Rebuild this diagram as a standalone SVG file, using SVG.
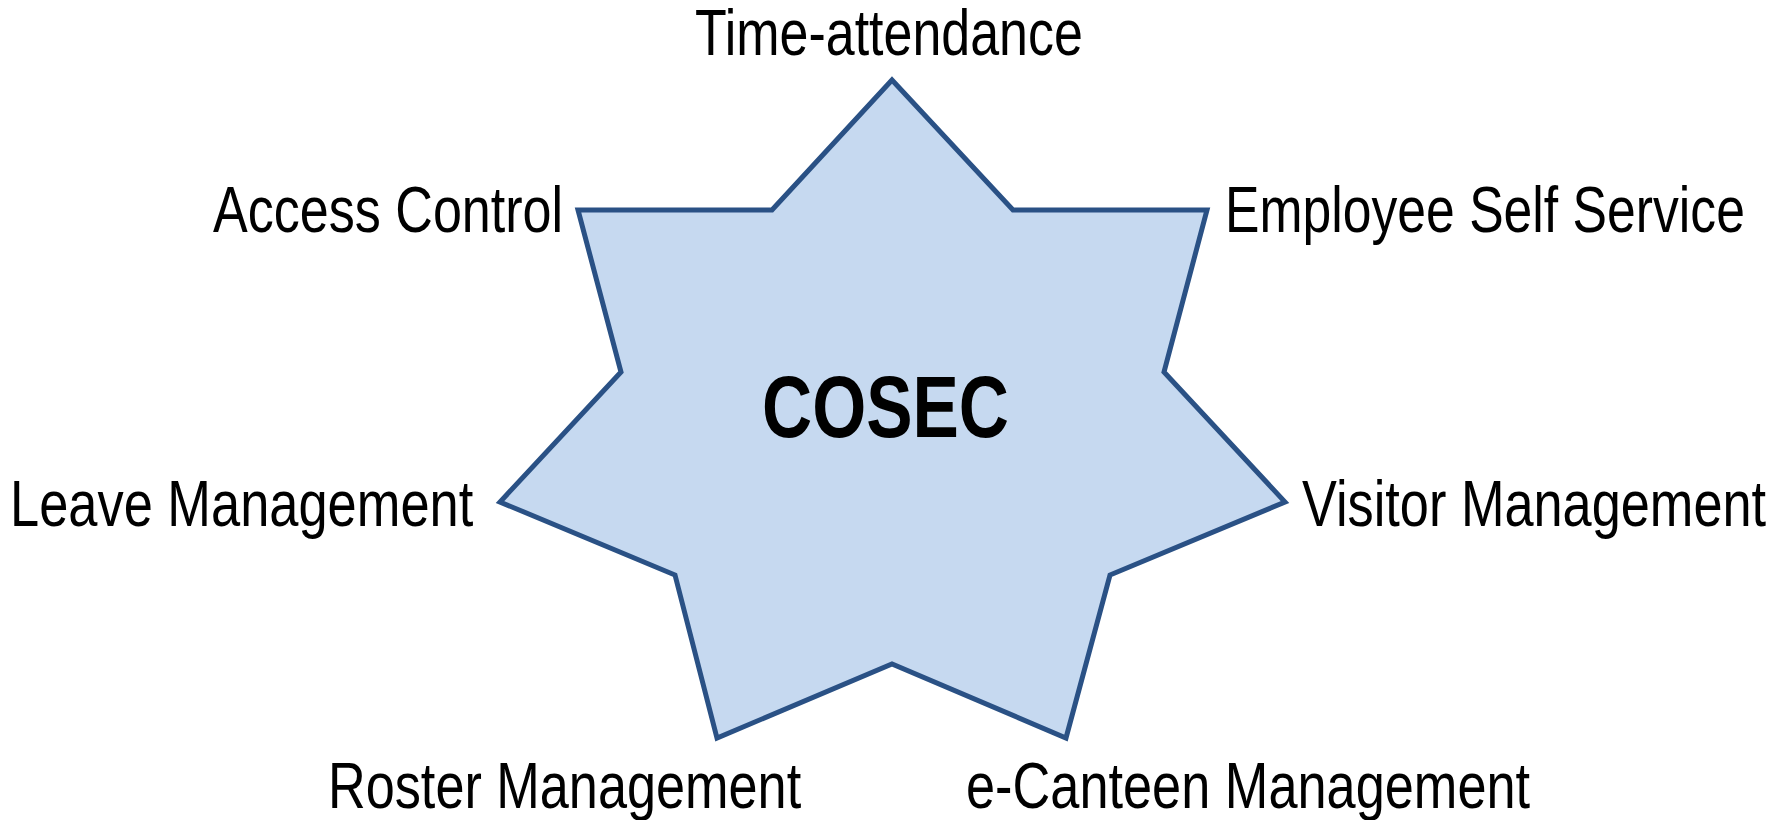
<svg xmlns="http://www.w3.org/2000/svg" width="1789" height="820" viewBox="0 0 1789 820">
<style>
.lbl{font-family:"Liberation Sans",Arial,sans-serif;font-size:64px;fill:#000}
.title{font-family:"Liberation Sans",Arial,sans-serif;font-size:88px;font-weight:bold;fill:#000}
.star{fill:#c6d9f0;stroke:#2a5185;stroke-width:5;stroke-linejoin:miter}
</style>
<rect width="1789" height="820" fill="#fff"/>
<g id="star">
<polygon class="star" points="892,80 1013,210 1207,210 1164,372 1285,502 1110,575 1066,738 892,664 717,738 675,575 500,502 621,372 578,210 772,210"/>
<text class="title" x="762" y="437" textLength="247" lengthAdjust="spacingAndGlyphs">COSEC</text>
</g>
<g id="connectors"></g>
<g id="time-attendance"><text class="lbl" transform="translate(695,55) scale(0.82,1)" x="0" y="0" textLength="473" lengthAdjust="spacingAndGlyphs">Time-attendance</text></g>
<g id="access-control"><text class="lbl" transform="translate(213,232) scale(0.82,1)" x="0" y="0" textLength="427" lengthAdjust="spacingAndGlyphs">Access Control</text></g>
<g id="employee-self-service"><text class="lbl" transform="translate(1225,232) scale(0.82,1)" x="0" y="0" textLength="634" lengthAdjust="spacingAndGlyphs">Employee Self Service</text></g>
<g id="leave-management"><text class="lbl" transform="translate(10,526) scale(0.82,1)" x="0" y="0" textLength="565" lengthAdjust="spacingAndGlyphs">Leave Management</text></g>
<g id="visitor-management"><text class="lbl" transform="translate(1302,526) scale(0.82,1)" x="0" y="0" textLength="566" lengthAdjust="spacingAndGlyphs">Visitor Management</text></g>
<g id="roster-management"><text class="lbl" transform="translate(328,808) scale(0.82,1)" x="0" y="0" textLength="577" lengthAdjust="spacingAndGlyphs">Roster Management</text></g>
<g id="e-canteen-management"><text class="lbl" transform="translate(966,808) scale(0.82,1)" x="0" y="0" textLength="688" lengthAdjust="spacingAndGlyphs">e-Canteen Management</text></g>
</svg>
